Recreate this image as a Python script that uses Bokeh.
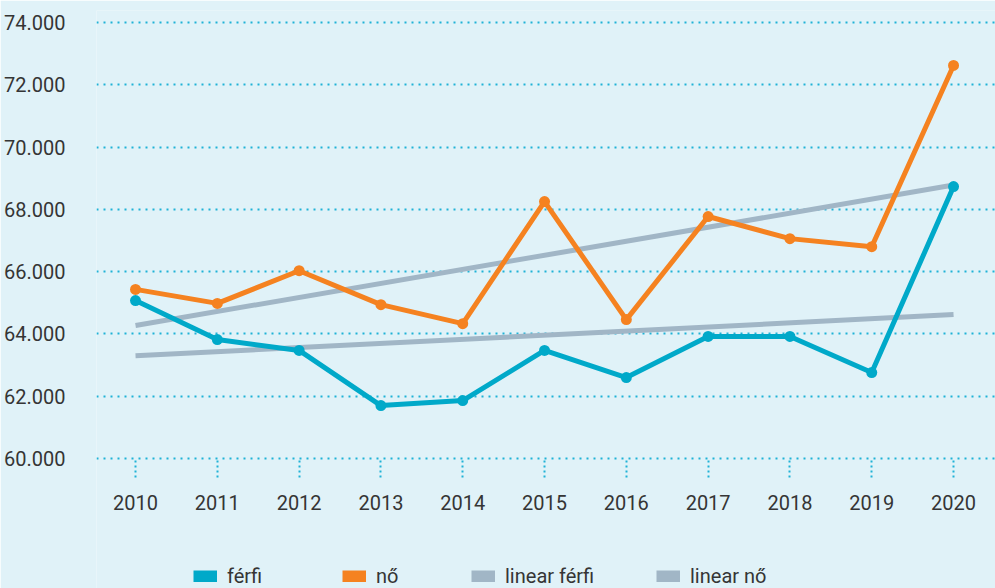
from bokeh.plotting import figure
from bokeh.models import (ColumnDataSource, Range1d, FixedTicker, Legend, LegendItem)
from bokeh.embed import file_html
from bokeh.resources import INLINE

years = [2010, 2011, 2012, 2013, 2014, 2015, 2016, 2017, 2018, 2019, 2020]
ferfi = [65070, 63820, 63470, 61700, 61860, 63470, 62600, 63920, 63920, 62760, 68730]
no = [65430, 64980, 66030, 64940, 64330, 68250, 64460, 67770, 67060, 66800, 72620]
trend_years = [2010, 2020]
trend_ferfi = [63300, 64620]
trend_no = [64270, 68780]
y_ticks = [60000, 62000, 64000, 66000, 68000, 70000, 72000, 74000]
y_tick_labels = ["60.000", "62.000", "64.000", "66.000", "68.000", "70.000", "72.000", "74.000"]
legend_labels = ["férfi", "nő", "linear férfi", "linear nő"]

BG = "#e0f2f8"
TEAL = "#00a9c9"
ORANGE = "#f58220"
GRAY = "#a1b6c6"
GRID = "#1fb2d6"
TXT = "#353535"
FONT = "Roboto"
NAN = float("nan")

p = figure(width=995, height=588, output_backend="svg", toolbar_location=None,
           x_range=Range1d(2009.523, 2020.513), y_range=Range1d(55826, 74385),
           min_border_left=96, min_border_right=0, min_border_top=10, min_border_bottom=0)
p.background_fill_color = BG
p.border_fill_color = BG
p.outline_line_color = None

src = ColumnDataSource(dict(x=years, f=ferfi, n=no))
tsrc = ColumnDataSource(dict(x=trend_years, f=trend_ferfi, n=trend_no))

p.line("x", "f", source=tsrc, line_color=GRAY, line_width=5)
p.line("x", "n", source=tsrc, line_color=GRAY, line_width=5)
p.line("x", "n", source=src, line_color=ORANGE, line_width=5)
p.scatter("x", "n", source=src, size=11, fill_color=ORANGE, line_color=None)
p.line("x", "f", source=src, line_color=TEAL, line_width=5)
p.scatter("x", "f", source=src, size=11, fill_color=TEAL, line_color=None)

# legend swatches (thick line stubs that only show in the legend)
colors = [TEAL, ORANGE, GRAY, GRAY]
swatches = [p.line(x=[NAN, NAN], y=[NAN, NAN], line_color=c, line_width=12, line_cap="butt")
            for c in colors]
xpos = [97, 246, 375, 560]
for lab, r, xp in zip(legend_labels, swatches, xpos):
    lg = Legend(items=[LegendItem(label=lab, renderers=[r])], location=(xp, 0),
                orientation="horizontal", glyph_width=24, glyph_height=12,
                label_standoff=10, padding=0, margin=0, spacing=0,
                background_fill_alpha=0, border_line_color=None,
                label_text_font=FONT, label_text_font_size="20px", label_text_color=TXT)
    p.add_layout(lg, "center")

# y axis
p.yaxis.ticker = FixedTicker(ticks=y_ticks)
p.yaxis.major_label_overrides = dict(zip(y_ticks, y_tick_labels))
p.yaxis.axis_line_color = None
p.yaxis.major_tick_line_color = None
p.yaxis.minor_tick_line_color = None
p.yaxis.major_label_standoff = 25
p.yaxis.major_label_text_font = FONT
p.yaxis.major_label_text_font_size = "20px"
p.yaxis.major_label_text_color = TXT

# x axis drawn at the 60.000 level
p.xaxis.fixed_location = 60000
p.xaxis.ticker = FixedTicker(ticks=years)
p.xaxis.axis_line_color = None
p.xaxis.minor_tick_line_color = None
p.xaxis.major_tick_in = 0
p.xaxis.major_tick_out = 19
p.xaxis.major_tick_line_color = GRID
p.xaxis.major_tick_line_width = 2
p.xaxis.major_tick_line_dash = "2 3"
p.xaxis.major_label_standoff = 17
p.xaxis.major_label_text_font = FONT
p.xaxis.major_label_text_font_size = "20px"
p.xaxis.major_label_text_color = TXT

p.xgrid.grid_line_color = None
p.ygrid.grid_line_color = GRID
p.ygrid.grid_line_width = 2
p.ygrid.grid_line_dash = "2 5"

open("out.html", "w").write(file_html(p, INLINE))
